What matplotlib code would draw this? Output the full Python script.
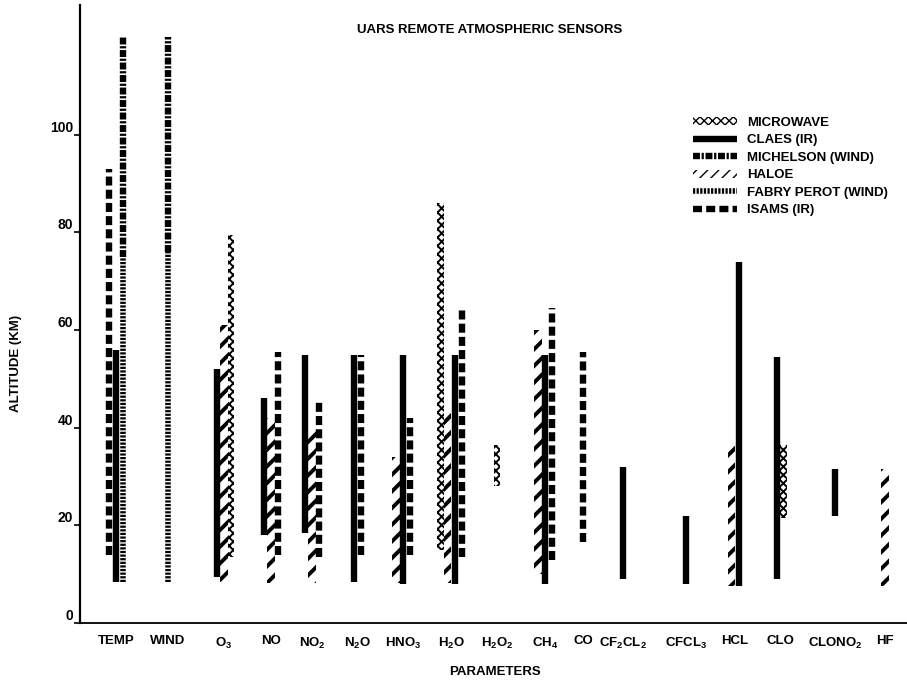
import matplotlib
matplotlib.use("Agg")
import matplotlib.pyplot as plt
from matplotlib import font_manager
from matplotlib.lines import Line2D
from matplotlib.patches import Patch


def has_font(name):
    try:
        font_manager.findfont(name, fallback_to_default=False)
        return True
    except ValueError:
        return False


FONT = 'Liberation Sans Narrow' if has_font('Liberation Sans Narrow') else 'Liberation Sans'
plt.rcParams['font.family'] = [FONT, 'DejaVu Sans']
plt.rcParams['font.weight'] = 'bold'
plt.rcParams['mathtext.fontset'] = 'custom'
plt.rcParams['mathtext.rm'] = FONT + ':bold'
plt.rcParams['mathtext.it'] = FONT + ':bold'
plt.rcParams['mathtext.bf'] = FONT + ':bold'
plt.rcParams['lines.scale_dashes'] = False

# parameters along the x axis
params = ['TEMP', 'WIND', 'O3', 'NO', 'NO2', 'N2O', 'HNO3', 'H2O', 'H2O2', 'CH4',
          'CO', 'CF2CL2', 'CFCL3', 'HCL', 'CLO', 'CLONO2', 'HF']
param_labels = ['TEMP', 'WIND', 'O$_3$', 'NO', 'NO$_2$', 'N$_2$O', 'HNO$_3$', 'H$_2$O',
                'H$_2$O$_2$', 'CH$_4$', 'CO', 'CF$_2$CL$_2$', 'CFCL$_3$', 'HCL', 'CLO',
                'CLONO$_2$', 'HF']

# altitude coverage (km) per instrument
microwave_params = ['O3', 'H2O', 'H2O2', 'CLO']
microwave_low = [13.5, 15, 28, 21.5]
microwave_high = [79.5, 86, 36.5, 36.5]

claes_params = ['TEMP', 'O3', 'NO', 'NO2', 'N2O', 'HNO3', 'H2O', 'CH4', 'CF2CL2',
                'CFCL3', 'HCL', 'CLO', 'CLONO2']
claes_low = [8.5, 9.5, 18, 18.5, 8.5, 8, 8, 8, 9, 8, 7.5, 9, 22]
claes_high = [56, 52, 46, 55, 55, 55, 55, 55, 32, 22, 74, 54.5, 31.5]

michelson_params = ['TEMP', 'WIND']
michelson_low = [75, 76]
michelson_high = [120, 120]

haloe_params = ['O3', 'NO', 'NO2', 'HNO3', 'H2O', 'CH4', 'HCL', 'HF']
haloe_low = [8.5, 8.2, 8.2, 8.2, 8.2, 10, 7.5, 7.5]
haloe_high = [61, 42, 40, 34, 43, 60, 37, 31.5]

fabry_params = ['TEMP', 'WIND']
fabry_low = [8.5, 8.5]
fabry_high = [75, 76]

isams_params = ['TEMP', 'NO', 'NO2', 'N2O', 'HNO3', 'H2O', 'CH4', 'CO']
isams_low = [14, 14, 13.5, 14, 14, 13.5, 13, 16.5]
isams_high = [93, 55.5, 45.5, 55, 42, 64.5, 64.5, 55.5]

# layout: horizontal centre of each group (pixel units) and left-to-right order of columns
group_x = [116, 168, 224, 271, 312, 357, 403, 451, 497, 545, 583, 623, 686, 735, 780, 835, 885]
group_order = {
    'TEMP': ['ISAMS', 'CLAES', 'MICH'], 'WIND': ['MICH'],
    'O3': ['CLAES', 'HALOE', 'MICROWAVE'], 'NO': ['CLAES', 'HALOE', 'ISAMS'],
    'NO2': ['CLAES', 'HALOE', 'ISAMS'], 'N2O': ['CLAES', 'ISAMS'],
    'HNO3': ['HALOE', 'CLAES', 'ISAMS'], 'H2O': ['MICROWAVE', 'HALOE', 'CLAES', 'ISAMS'],
    'H2O2': ['MICROWAVE'], 'CH4': ['HALOE', 'CLAES', 'ISAMS'], 'CO': ['ISAMS'],
    'CF2CL2': ['CLAES'], 'CFCL3': ['CLAES'], 'HCL': ['HALOE', 'CLAES'],
    'CLO': ['CLAES', 'MICROWAVE'], 'CLONO2': ['CLAES'], 'HF': ['HALOE'],
}
slot = 7.0

MICH_LS = (0, (5, 1.2, 1.6, 1.2))
FABRY_LS = (0, (1.6, 1.0))
ISAMS_LS = (0, (6.5, 3))


def col_x(param, inst):
    order = group_order[param]
    i = order.index(inst)
    return group_x[params.index(param)] + (i - (len(order) - 1) / 2) * slot


fig = plt.figure(figsize=(9.07, 6.81), dpi=100)
ax = fig.add_axes([80 / 907, 1 - 623 / 681, 827 / 907, 618 / 681])
ax.set_xlim(80, 907)
ax.set_ylim(0, 126.6)

# solid / dashed / dotted columns as vertical lines
line_styles = {
    'CLAES': dict(linestyles='solid', linewidths=4.6),
    'MICH': dict(linestyles=[MICH_LS], linewidths=4.6),
    'FABRY': dict(linestyles=[FABRY_LS], linewidths=4.0),
    'ISAMS': dict(linestyles=[ISAMS_LS], linewidths=4.6),
}
for name, plist, lo, hi, key in [
        ('CLAES', claes_params, claes_low, claes_high, 'CLAES'),
        ('MICH', michelson_params, michelson_low, michelson_high, 'MICH'),
        ('MICH', fabry_params, fabry_low, fabry_high, 'FABRY'),
        ('ISAMS', isams_params, isams_low, isams_high, 'ISAMS')]:
    xs = [col_x(p, name) for p in plist]
    ax.vlines(xs, lo, hi, colors='black', capstyle='butt', **line_styles[key])

# hatched columns as bars
with plt.rc_context({'hatch.linewidth': 2.8}):
    xs = [col_x(p, 'HALOE') for p in haloe_params]
    ax.bar(xs, [h - l for h, l in zip(haloe_high, haloe_low)], bottom=haloe_low,
           width=7.5, facecolor='none', edgecolor='black', linewidth=0, hatch='//')
with plt.rc_context({'hatch.linewidth': 1.4}):
    xs = [col_x(p, 'MICROWAVE') for p in microwave_params]
    ax.bar(xs, [h - l for h, l in zip(microwave_high, microwave_low)], bottom=microwave_low,
           width=6.5, facecolor='none', edgecolor='black', linewidth=0, hatch='xxxx')

# axes styling
for s in ['top', 'right']:
    ax.spines[s].set_visible(False)
ax.spines['left'].set_linewidth(1.6)
ax.spines['bottom'].set_linewidth(1.3)
ax.set_yticks([0, 20, 40, 60, 80, 100])
ax.tick_params(axis='y', direction='out', length=4, width=1.2, labelsize=10, pad=1)
plt.setp(ax.get_yticklabels(), va='bottom', fontweight='bold')
ax.set_xticks(group_x, param_labels)
ax.tick_params(axis='x', length=0, labelsize=9.5, pad=9)
plt.setp(ax.get_xticklabels(), fontweight='bold')

ax.set_ylabel('ALTITUDE (KM)', fontsize=9.5, fontweight='bold')
ax.yaxis.set_label_coords(-0.07, 0.42)
fig.text(495 / 907, 1 - 672 / 681, 'PARAMETERS', ha='center', va='center',
         fontsize=9.5, fontweight='bold')
fig.text(490 / 907, 1 - 30 / 681, 'UARS REMOTE ATMOSPHERIC SENSORS', ha='center',
         va='center', fontsize=9.5, fontweight='bold')

# legend
with plt.rc_context({'hatch.linewidth': 1.4}):
    h_micro = Patch(facecolor='none', edgecolor='black', linewidth=0, hatch='xxxx')
with plt.rc_context({'hatch.linewidth': 2.8}):
    h_haloe = Patch(facecolor='none', edgecolor='black', linewidth=0, hatch='///')
handles = [
    h_micro,
    Line2D([], [], color='black', lw=4.6, solid_capstyle='butt'),
    Line2D([], [], color='black', lw=4.6, ls=MICH_LS, dash_capstyle='butt'),
    h_haloe,
    Line2D([], [], color='black', lw=4.0, ls=FABRY_LS, dash_capstyle='butt'),
    Line2D([], [], color='black', lw=4.6, ls=ISAMS_LS, dash_capstyle='butt'),
]
labels = ['MICROWAVE', 'CLAES (IR)', 'MICHELSON (WIND)', 'HALOE', 'FABRY PEROT (WIND)',
          'ISAMS (IR)']
ax.legend(handles, labels, loc='upper left', bbox_to_anchor=(686 / 907, 1 - 110 / 681),
          bbox_transform=fig.transFigure, frameon=False, borderpad=0,
          handlelength=3.4, handleheight=0.55, handletextpad=0.7, labelspacing=0.42,
          prop={'weight': 'bold', 'size': 9.5})

fig.savefig('out.png', dpi=100)
